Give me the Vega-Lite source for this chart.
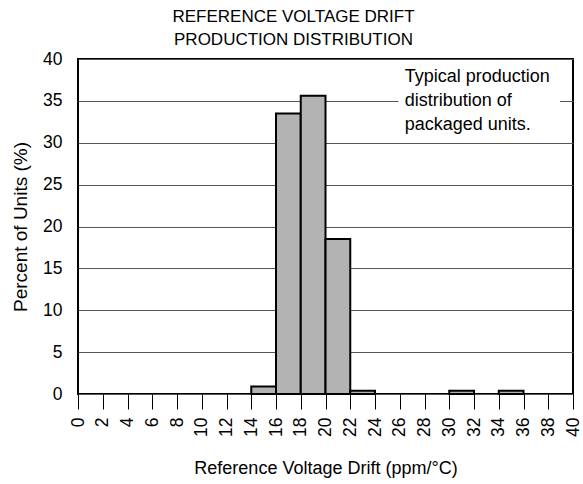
{
  "$schema": "https://vega.github.io/schema/vega-lite/v6.json",
  "autosize": {"type": "none"},
  "width": 495,
  "height": 335,
  "padding": {"left": 78, "top": 59, "right": 10, "bottom": 90},
  "background": "white",
  "config": {
    "font": "Liberation Sans",
    "view": {"stroke": "black", "strokeWidth": 2},
    "axis": {"labelFont": "Liberation Sans", "titleFont": "Liberation Sans", "labelColor": "black", "titleColor": "black", "titleFontWeight": "normal", "labelFontSize": 17.5, "titleFontSize": 18, "domain": false, "labelOverlap": false, "labelFlush": false},
    "axisX": {"labelAngle": 270, "labelAlign": "right", "labelBaseline": "middle", "tickSize": 15, "tickColor": "black", "tickWidth": 1, "labelPadding": 8, "titlePadding": 23, "grid": false},
    "axisY": {"titleFontSize": 19, "ticks": false, "labelPadding": 16, "titlePadding": 12, "grid": true, "gridColor": "#555555", "gridWidth": 1}
  },
  "title": {
    "text": ["REFERENCE VOLTAGE DRIFT", "PRODUCTION DISTRIBUTION"],
    "fontSize": 17,
    "fontWeight": "normal",
    "color": "black",
    "font": "Liberation Sans",
    "lineHeight": 23,
    "anchor": "middle",
    "dx": -32,
    "offset": 1
  },
  "layer": [
    {
      "data": {
        "values": [
          {"start": 14, "end": 16, "pct": 0.9},
          {"start": 16, "end": 18, "pct": 33.5},
          {"start": 18, "end": 20, "pct": 35.6},
          {"start": 20, "end": 22, "pct": 18.5},
          {"start": 22, "end": 24, "pct": 0.4},
          {"start": 30, "end": 32, "pct": 0.4},
          {"start": 34, "end": 36, "pct": 0.4}
        ]
      },
      "mark": {"type": "rect", "fill": "#b3b3b3", "stroke": "black", "strokeWidth": 2},
      "encoding": {
        "x": {
          "field": "start",
          "type": "quantitative",
          "scale": {"domain": [0, 40], "nice": false},
          "axis": {"title": "Reference Voltage Drift (ppm/°C)", "values": [0, 2, 4, 6, 8, 10, 12, 14, 16, 18, 20, 22, 24, 26, 28, 30, 32, 34, 36, 38, 40]}
        },
        "x2": {"field": "end"},
        "y": {
          "field": "pct",
          "type": "quantitative",
          "scale": {"domain": [0, 40], "nice": false},
          "axis": {"title": "Percent of Units (%)", "values": [0, 5, 10, 15, 20, 25, 30, 35, 40]}
        },
        "y2": {"datum": 0}
      }
    },
    {
      "data": {"values": [{"note": "gap"}]},
      "mark": {"type": "rect", "fill": "white", "strokeWidth": 0},
      "encoding": {
        "x": {"datum": 25.9, "type": "quantitative", "axis": {"title": "Reference Voltage Drift (ppm/°C)", "values": [0, 2, 4, 6, 8, 10, 12, 14, 16, 18, 20, 22, 24, 26, 28, 30, 32, 34, 36, 38, 40]}},
        "x2": {"datum": 38.95},
        "y": {"datum": 34.6, "type": "quantitative", "axis": {"title": "Percent of Units (%)", "values": [0, 5, 10, 15, 20, 25, 30, 35, 40]}},
        "y2": {"datum": 35.4}
      }
    },
    {
      "data": {"values": [{"note": "Typical production distribution of packaged units."}]},
      "mark": {"type": "text", "align": "left", "baseline": "alphabetic", "fontSize": 18, "lineHeight": 24, "fill": "black", "font": "Liberation Sans"},
      "encoding": {
        "x": {"datum": 26.4, "type": "quantitative", "axis": {"title": "Reference Voltage Drift (ppm/°C)", "values": [0, 2, 4, 6, 8, 10, 12, 14, 16, 18, 20, 22, 24, 26, 28, 30, 32, 34, 36, 38, 40]}},
        "y": {"datum": 37.2, "type": "quantitative", "axis": {"title": "Percent of Units (%)", "values": [0, 5, 10, 15, 20, 25, 30, 35, 40]}},
        "text": {"value": ["Typical production", "distribution of", "packaged units."]}
      }
    }
  ]
}
